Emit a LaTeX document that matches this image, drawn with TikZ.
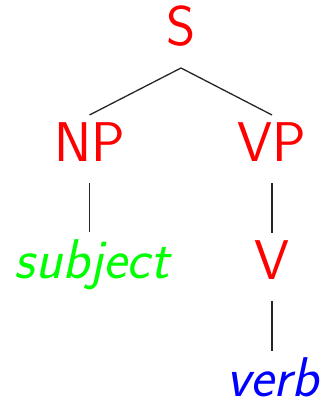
\documentclass[tikz,border=0pt]{standalone}
\usepackage{fontspec}
\begin{document}
\begin{tikzpicture}[x=1pt,y=1pt,
  lbl/.style={anchor=base,inner sep=0pt,outer sep=0pt,outer ysep=10pt,
    text height=36pt,text depth=12pt,
    font=\sffamily\fontsize{56}{60}\selectfont},
  cat/.style={lbl,text={rgb,255:red,255;green,0;blue,0}},
  subj/.style={lbl,text={rgb,255:red,0;green,255;blue,0},font=\sffamily\itshape\fontsize{56}{60}\selectfont},
  vrb/.style={lbl,text={rgb,255:red,0;green,0;blue,255},font=\sffamily\itshape\fontsize{56}{60}\selectfont},
  edge/.style={draw=black!85,line width=1.3pt}]
\useasboundingbox (0,0) rectangle (324,-401);
\node[cat] (S) at (181,-46) {S};
\node[cat] (NP) at (89.5,-161) {NP};
\node[cat] (VP) at (272,-161) {VP};
\node[subj] (subject) at (92,-278) {subject};
\node[cat] (V) at (272,-279) {V};
\node[vrb] (verb) at (272.5,-396.5) {verb};
\draw[edge] (S.south) -- (NP.north);
\draw[edge] (S.south) -- (VP.north);
\draw[edge] (NP.south) -- (NP.south |- subject.north);
\draw[edge] (VP.south) -- (V.north);
\draw[edge] (V.south) -- (V.south |- verb.north);
\end{tikzpicture}
\end{document}
